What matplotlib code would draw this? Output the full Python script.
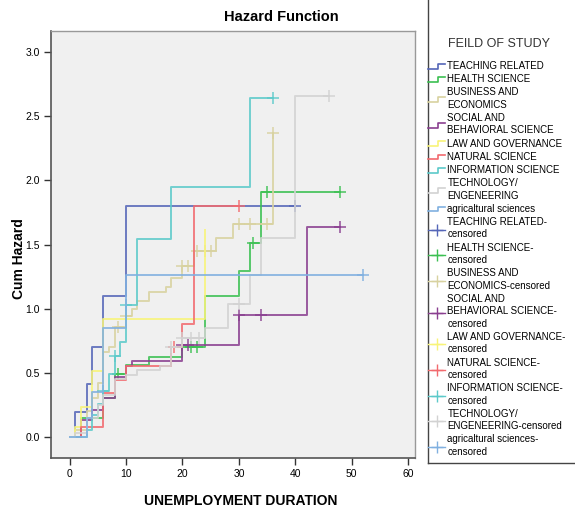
import numpy as np
import matplotlib.pyplot as plt
from matplotlib.legend_handler import HandlerBase
from matplotlib.lines import Line2D

plt.rcParams['font.family'] = ['Liberation Sans', 'DejaVu Sans']

# event times and cumulative hazard for each field of study
teach_t = [0, 1, 3, 4, 6, 10]
teach_h = [0, 0.19, 0.41, 0.70, 1.10, 1.80]
teach_c = [40]

health_t = [0, 2, 6, 8, 10, 14, 20, 24, 30, 32, 34]
health_h = [0, 0.15, 0.30, 0.49, 0.56, 0.62, 0.70, 1.10, 1.29, 1.51, 1.91]
health_c = [8.5, 21.5, 22.5, 32.5, 35, 48]

business_t = [0, 1, 3, 4, 5, 6, 7, 8, 10, 11, 12, 14, 17, 18, 20, 22, 26, 29, 36]
business_h = [0, 0.05, 0.20, 0.30, 0.42, 0.66, 0.70, 0.86, 0.94, 1.00, 1.06,
              1.13, 1.17, 1.24, 1.33, 1.45, 1.55, 1.66, 2.37]
business_c = [8.5, 10, 20, 21, 22.5, 24, 25, 30, 32, 35, 36]

social_t = [0, 2, 4, 6, 8, 10, 11, 20, 30, 42]
social_h = [0, 0.13, 0.21, 0.30, 0.47, 0.55, 0.59, 0.72, 0.95, 1.64]
social_c = [20, 21, 30, 34, 48]

law_t = [0, 1, 2, 4, 6, 24]
law_h = [0, 0.08, 0.23, 0.51, 0.92, 1.61]
law_c = []

natural_t = [0, 2, 6, 8, 10, 18, 20, 22]
natural_h = [0, 0.08, 0.34, 0.44, 0.55, 0.70, 0.88, 1.80]
natural_c = [18.5, 30]

info_t = [0, 3, 4, 5, 6, 7, 8, 9, 10, 12, 18, 32]
info_h = [0, 0.05, 0.17, 0.26, 0.36, 0.49, 0.63, 0.74, 1.03, 1.54, 1.95, 2.64]
info_c = [6, 8, 10, 36]

tech_t = [0, 1, 3, 5, 6, 8, 10, 12, 16, 18, 20, 24, 28, 32, 34, 40]
tech_h = [0, 0.03, 0.15, 0.25, 0.33, 0.45, 0.48, 0.52, 0.55, 0.70, 0.77,
          0.85, 1.04, 1.26, 1.55, 2.66]
tech_c = [18, 20, 21.5, 23, 30, 46]

agri_t = [0, 3, 4, 6, 10]
agri_h = [0, 0.15, 0.35, 0.85, 1.26]
agri_c = [52]

labels = ["TEACHING RELATED", "HEALTH SCIENCE", "BUSINESS AND\nECONOMICS",
          "SOCIAL AND\nBEHAVIORAL SCIENCE", "LAW AND GOVERNANCE",
          "NATURAL SCIENCE", "INFORMATION SCIENCE", "TECHNOLOGY/\nENGENEERING",
          "agricaltural sciences"]
cens_labels = ["TEACHING RELATED-\ncensored", "HEALTH SCIENCE-\ncensored",
               "BUSINESS AND\nECONOMICS-censored",
               "SOCIAL AND\nBEHAVIORAL SCIENCE-\ncensored",
               "LAW AND GOVERNANCE-\ncensored", "NATURAL SCIENCE-\ncensored",
               "INFORMATION SCIENCE-\ncensored",
               "TECHNOLOGY/\nENGENEERING-censored",
               "agricaltural sciences-\ncensored"]
colors = ["#5566b8", "#3cc052", "#d8d2a0", "#8a3f90", "#f8f478",
          "#f26a6e", "#5ccaca", "#d2d2d2", "#80b0e0"]

series = [(teach_t, teach_h, teach_c), (health_t, health_h, health_c),
          (business_t, business_h, business_c), (social_t, social_h, social_c),
          (law_t, law_h, law_c), (natural_t, natural_h, natural_c),
          (info_t, info_h, info_c), (tech_t, tech_h, tech_c),
          (agri_t, agri_h, agri_c)]


class StepHandler(HandlerBase):
    def create_artists(self, legend, orig_handle, xdescent, ydescent,
                       width, height, fontsize, trans):
        xs = np.array([0, 0.6, 0.6, 1.0]) * width - xdescent
        ys = np.array([0.1, 0.1, 0.75, 0.75]) * height - ydescent
        ln = Line2D(xs, ys, color=orig_handle.get_color(), lw=1.2,
                    transform=trans)
        return [ln]


class CensHandler(HandlerBase):
    def create_artists(self, legend, orig_handle, xdescent, ydescent,
                       width, height, fontsize, trans):
        y = 0.4 * height - ydescent
        ln = Line2D([-xdescent, width - xdescent], [y, y],
                    color=orig_handle.get_color(), lw=1.0, transform=trans)
        mk = Line2D([0.5 * width - xdescent], [y], marker='+', ms=9, mew=1.0,
                    color=orig_handle.get_color(), transform=trans)
        return [ln, mk]


fig = plt.figure(figsize=(5.75, 5.09), dpi=100)
ax = fig.add_axes([0.0887, 0.1002, 0.633, 0.8388])
ax.set_facecolor('#f0f0f0')

line_handles = []
cens_handles = []
for (t, h, c), col in zip(series, colors):
    t = list(t)
    h = list(h)
    if c and max(c) > t[-1]:
        t.append(max(c))
        h.append(h[-1])
    ln, = ax.step(t, h, where='post', color=col, lw=1.4, alpha=0.85)
    line_handles.append(ln)
    if c:
        idx = np.searchsorted(t, c, side='right') - 1
        ax.plot(c, np.array(h)[idx], '+', color=col, ms=8, mew=1.2, alpha=0.85)
    cens_handles.append(Line2D([], [], color=col))

ax.set_xlim(-3.3, 61.2)
ax.set_ylim(-0.165, 3.165)
ax.set_xticks(np.arange(0, 61, 10))
ax.set_yticks(np.arange(0, 3.01, 0.5))
ax.yaxis.set_major_formatter(plt.FormatStrFormatter('%.1f'))
ax.tick_params(labelsize=7.5, length=5, width=1, color='#333333', pad=3)
for s in ['left', 'bottom']:
    ax.spines[s].set_color('#555555')
    ax.spines[s].set_linewidth(1.2)
for s in ['top', 'right']:
    ax.spines[s].set_color('#999999')
    ax.spines[s].set_linewidth(1.0)

fig.suptitle("Hazard Function", x=0.49, y=1 - 17 / 509, va='center',
             fontsize=10.5, fontweight='bold')
ax.set_xlabel("UNEMPLOYMENT DURATION", fontsize=10, fontweight='bold')
ax.xaxis.set_label_coords(0.52, -0.085)
ax.set_ylabel("Cum Hazard", fontsize=10, fontweight='bold')
ax.yaxis.set_label_coords(-0.07, 0.468)

# legend panel border (left and bottom edges)
fx0 = 428 / 575
fy0 = 1 - 463 / 509
fig.add_artist(Line2D([fx0, fx0], [fy0, 1.0], color='#444444', lw=1.0,
                      transform=fig.transFigure))
fig.add_artist(Line2D([fx0, 1.0], [fy0, fy0], color='#444444', lw=1.0,
                      transform=fig.transFigure))
fig.text(448 / 575, 1 - 44 / 509, "FEILD OF STUDY", fontsize=9,
         color='#333333', va='center', ha='left')

handler_map = {h: StepHandler() for h in line_handles}
handler_map.update({h: CensHandler() for h in cens_handles})
leg = fig.legend(line_handles + cens_handles, labels + cens_labels,
                 handler_map=handler_map, loc='upper left',
                 bbox_to_anchor=(fx0, 1 - 61 / 509), frameon=False,
                 fontsize=7, handlelength=1.75, handleheight=0.8,
                 handletextpad=0.25, labelspacing=0.33, borderpad=0,
                 borderaxespad=0)
for txt in leg.get_texts():
    txt.set_linespacing(1.3)

fig.savefig("out.png", dpi=100)
